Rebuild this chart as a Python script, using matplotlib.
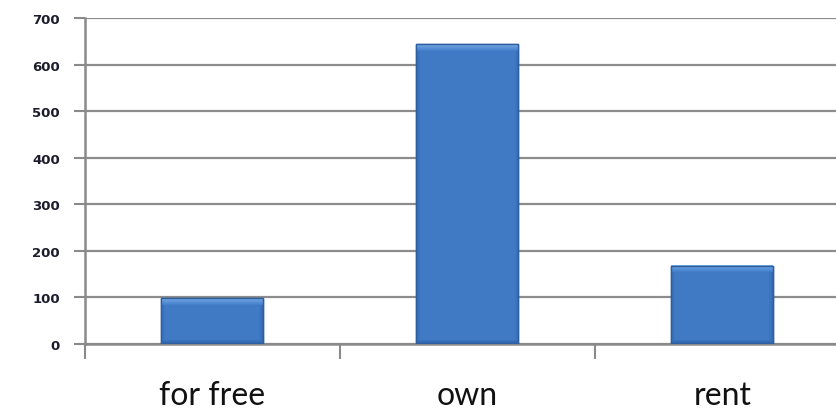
import numpy as np
import matplotlib
matplotlib.use("Agg")
import matplotlib.pyplot as plt
from matplotlib.colors import LinearSegmentedColormap

# Housing tenure counts
categories = ["for free", "own", "rent"]
counts = [98, 644, 168]
y_ticks = [0, 100, 200, 300, 400, 500, 600, 700]

fig = plt.figure(figsize=(8.37, 4.14), dpi=100)
ax = fig.add_axes([85 / 837, 69 / 414, 765 / 837, 326 / 414])

x = np.arange(len(categories))
bars = ax.bar(x, counts, width=0.4, color="#3a72bd", edgecolor="#2d5f9e",
              linewidth=1.0, zorder=3)

ax.set_xlim(-0.5, 2.5)
ax.set_ylim(0, 700)
ax.set_yticks(y_ticks)
ax.set_yticklabels([str(v) for v in y_ticks], fontsize=9.5, fontweight="bold",
                   color="#1c1c2c")
ax.set_xticks([-0.5, 0.5, 1.5])
ax.set_xticklabels([])
ax.tick_params(axis="y", length=8, width=1.5, color="#8a8a8a", pad=10)
ax.tick_params(axis="x", length=11, width=1.5, color="#8a8a8a")

ax.grid(axis="y", color="#8c8c8c", linewidth=1.6, zorder=0)
ax.set_axisbelow(True)
for side in ["top", "right"]:
    ax.spines[side].set_visible(False)
ax.spines["left"].set_color("#8a8a8a")
ax.spines["left"].set_linewidth(1.8)
ax.spines["bottom"].set_color("#8a8a8a")
ax.spines["bottom"].set_linewidth(1.8)

for xi, name in zip(x, categories):
    ax.text(xi, -0.156, name, transform=ax.get_xaxis_transform(), ha="center",
            va="center", fontsize=23, family="Lato", color="#111111")

# bevelled gradient fill on each bar
fig.canvas.draw()
shade = LinearSegmentedColormap.from_list(
    "bevel", ["#1f4f8c", "#386fb8", "#4581cc", "#7fb0ea"])
for patch in bars:
    x0, y0 = patch.get_x(), patch.get_y()
    w, h = patch.get_width(), patch.get_height()
    p0 = ax.transData.transform((x0, y0))
    p1 = ax.transData.transform((x0 + w, y0 + h))
    wpx, hpx = int(abs(p1[0] - p0[0])), int(abs(p1[1] - p0[1]))
    cols = np.arange(wpx)
    rows = np.arange(hpx)
    dx = np.minimum(cols, wpx - 1 - cols)[None, :]
    dy_top = rows[:, None]
    dy_bot = (hpx - 1 - rows)[:, None]
    img = np.full((hpx, wpx), 0.55)
    img = np.where(dy_bot < 4, 0.2 + dy_bot * 0.06, img)
    img = np.where(dx < 4, np.minimum(img, 0.3 + dx * 0.06), img)
    img = np.where(dy_top < 7, 0.95 - dy_top * 0.05, img)
    ax.imshow(img, cmap=shade, vmin=0, vmax=1, aspect="auto",
              extent=(x0, x0 + w, y0, y0 + h), origin="upper",
              interpolation="bilinear", zorder=4, clip_path=patch)
    edge = plt.Rectangle((x0, y0), w, h, fill=False, edgecolor="#2d5f9e",
                         linewidth=1.0, zorder=5)
    ax.add_patch(edge)

ax.set_xlim(-0.5, 2.5)
ax.set_ylim(0, 700)

fig.savefig("out.png", dpi=100)
